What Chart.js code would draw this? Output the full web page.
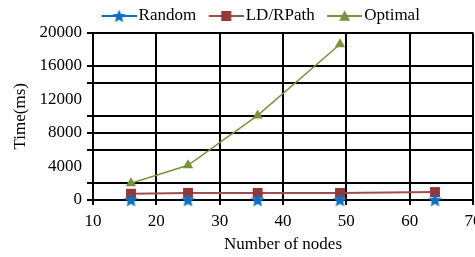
<!DOCTYPE html>
<html>
<head>
<meta charset="utf-8">
<script src="https://cdn.jsdelivr.net/npm/chart.js@4.4.1/dist/chart.umd.min.js"></script>
<style>
  html, body { margin: 0; padding: 0; background: #fff; }
  #wrap { width: 475px; height: 257px; }
</style>
</head>
<body>
<div id="wrap"><canvas id="chart"></canvas></div>
<script>
// Data
const nodes = [16, 25, 36, 49, 64];
const randomMs = [10, 10, 10, 10, 10];
const ldrpathMs = [750, 850, 850, 850, 950];
const optimalMs = [2000, 4150, 10100, 18600];
const seriesNames = ['Random', 'LD/RPath', 'Optimal'];
const xTicks = [10, 20, 30, 40, 50, 60, 70];
const yLabelTicks = [0, 4000, 8000, 12000, 16000, 20000];
const yGridValues = [0, 2000, 6000, 8000, 10000, 14000, 16000, 20000];

const colors = {
    blue: '#0a70c6',
    red: '#953735',
    redLine: '#a04e4b',
    green: '#77933c',
    grid: '#000000',
    text: '#000000'
};
const FONT = "'Liberation Serif', 'Times New Roman', serif";
const FS = 17;

// marker drawing helpers
function drawStar(ctx, cx, cy, R) {
    const r = R * 0.45;
    ctx.beginPath();
    for (let i = 0; i < 10; i++) {
        const a = -Math.PI / 2 + i * Math.PI / 5;
        const rad = i % 2 === 0 ? R : r;
        ctx.lineTo(cx + rad * Math.cos(a), cy + rad * Math.sin(a));
    }
    ctx.closePath();
    ctx.fill();
}
function drawSquare(ctx, cx, cy, s) {
    ctx.fillRect(cx - s / 2, cy - s / 2, s, s);
}
function drawTriangle(ctx, cx, cy, w) {
    const h = w * 0.87;
    ctx.beginPath();
    ctx.moveTo(cx, cy - h / 2 - 1);
    ctx.lineTo(cx + w / 2, cy + h / 2);
    ctx.lineTo(cx - w / 2, cy + h / 2);
    ctx.closePath();
    ctx.fill();
}

function makeCanvas(w, h, fn) {
    const c = document.createElement('canvas');
    c.width = w; c.height = h;
    fn(c.getContext('2d'));
    return c;
}

const starImg = makeCanvas(15, 15, ctx => { ctx.fillStyle = colors.blue; drawStar(ctx, 7.5, 8, 7.5); });

// Legend icons: line with marker, drawn in the right part of the canvas
// (canvas 52 wide, centred on the 39px legend box, content 17..52)
function legendIcon(lineColor, markerFn) {
    return makeCanvas(52, 16, ctx => {
        ctx.strokeStyle = lineColor;
        ctx.lineWidth = 2;
        ctx.beginPath();
        ctx.moveTo(17, 8);
        ctx.lineTo(52, 8);
        ctx.stroke();
        markerFn(ctx, 34.5);
    });
}
const legendIcons = [
    legendIcon(colors.blue, (ctx, m) => { ctx.fillStyle = colors.blue; drawStar(ctx, m, 8.5, 7); }),
    legendIcon(colors.redLine, (ctx, m) => { ctx.fillStyle = colors.red; drawSquare(ctx, m, 8, 10); }),
    legendIcon(colors.green, (ctx, m) => { ctx.fillStyle = colors.green; drawTriangle(ctx, m, 8, 11); })
];

const toPoints = (xs, ys) => ys.map((y, i) => ({ x: xs[i], y: y }));

// nudge the legend and stretch the plot to the right edge like the reference
const PLOT_RIGHT = 473;
const tweakLayout = {
    id: 'tweakLayout',
    afterLayout(chart) {
        const l = chart.legend;
        l.left += 19; l.right += 19;
        l.top += 2; l.bottom += 2;

        const x = chart.scales.x;
        x.right = PLOT_RIGHT;
        x.width = x.right - x.left;
        x.configure();
        chart.chartArea.right = PLOT_RIGHT;
        chart.chartArea.width = PLOT_RIGHT - chart.chartArea.left;
    }
};

new Chart(document.getElementById('chart'), {
    type: 'line',
    data: {
        datasets: [
            {
                label: seriesNames[0],
                data: toPoints(nodes, randomMs),
                showLine: false,
                pointStyle: starImg,
                borderColor: colors.blue,
                backgroundColor: colors.blue,
                clip: false
            },
            {
                label: seriesNames[1],
                data: toPoints(nodes, ldrpathMs),
                borderColor: colors.redLine,
                backgroundColor: colors.red,
                borderWidth: 2,
                pointStyle: 'rect',
                pointRadius: 7,
                pointBorderWidth: 0,
                clip: false
            },
            {
                label: seriesNames[2],
                data: toPoints(nodes, optimalMs),
                borderColor: colors.green,
                backgroundColor: colors.green,
                borderWidth: 1.5,
                pointStyle: 'triangle',
                pointRadius: 6,
                pointBorderWidth: 0,
                clip: false
            }
        ]
    },
    options: {
        responsive: true,
        maintainAspectRatio: false,
        animation: false,
        layout: { padding: { top: 3.5, right: 2, left: 0, bottom: 0 } },
        plugins: {
            legend: {
                position: 'top',
                labels: {
                    usePointStyle: true,
                    pointStyleWidth: 39,
                    padding: 2,
                    color: colors.text,
                    font: { family: FONT, size: FS },
                    generateLabels: chart => Chart.defaults.plugins.legend.labels.generateLabels(chart)
                        .map((item, i) => Object.assign(item, { pointStyle: legendIcons[i] }))
                }
            },
            tooltip: { enabled: false }
        },
        scales: {
            x: {
                type: 'linear',
                min: 10,
                max: 70,
                afterBuildTicks: s => { s.ticks = xTicks.map(v => ({ value: v })); },
                afterFit: s => { s.height = 57; },
                grid: { color: colors.grid, lineWidth: 2, tickLength: 5 },
                border: { color: colors.grid, width: 2 },
                ticks: { color: colors.text, font: { family: FONT, size: FS }, padding: 6, maxRotation: 0, autoSkip: false },
                title: {
                    display: true,
                    text: 'Number of nodes',
                    color: colors.text,
                    font: { family: FONT, size: FS },
                    padding: { top: 0, bottom: 2 }
                }
            },
            y: {
                min: 0,
                max: 20000,
                afterFit: s => { s.width = 93; },
                ticks: {
                    stepSize: 2000,
                    autoSkip: false,
                    color: colors.text,
                    font: { family: FONT, size: FS },
                    padding: 5,
                    callback: v => yLabelTicks.includes(v) ? String(v) : ''
                },
                grid: {
                    lineWidth: 2,
                    tickLength: 6,
                    color: c => (c.tick && yGridValues.includes(c.tick.value)) ? colors.grid : 'rgba(0,0,0,0)'
                },
                border: { color: colors.grid, width: 2 },
                title: {
                    display: true,
                    text: 'Time(ms)',
                    color: colors.text,
                    font: { family: FONT, size: FS },
                    padding: { top: 10, bottom: 4 }
                }
            }
        }
    },
    plugins: [tweakLayout]
});
</script>
</body>
</html>
